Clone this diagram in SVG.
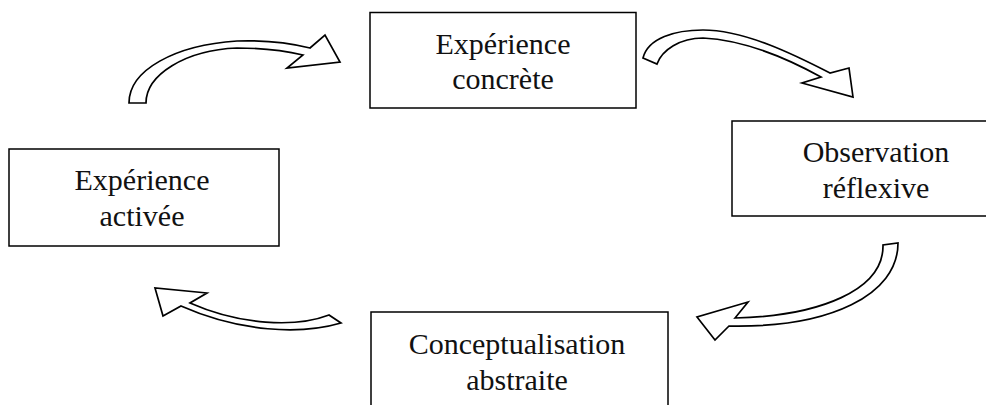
<svg xmlns="http://www.w3.org/2000/svg" width="986" height="405" viewBox="0 0 986 405">
<style>
.box{fill:#fff;stroke:#000;stroke-width:1.5}
.lbl{font-family:"Liberation Serif","Times New Roman",serif;font-size:30px;fill:#111;text-anchor:middle}
.arr{fill:#fff;stroke:#000;stroke-width:1.7;stroke-linejoin:miter}
</style>
<rect width="986" height="405" fill="#fff"/>
<g id="connectors">
<path class="arr" d="M129,103 C129,70 175,45 237,41 C265,40 290,43 310,48 L325,35 L340,62 L287,68 L303,55 C282,50 260,48 237,48 C185,50 146,75 146,103 Z"/>
<path class="arr" d="M643,58 C648,38 675,30 703,30 C745,30 795,55 830,73 L849,68 L853,97 L802,83 L821,77 C790,60 745,40 703,38 C680,38 662,50 657,64 Z"/>
<path class="arr" d="M898,243 C898,295 830,328 729,326 L715,340 L697,317 L748,302 L735,318 C820,316 884,290 883,245 Z"/>
<path class="arr" d="M341,323 C300,335 240,332 181,306 L163,316 L155,288 L207,293 L190,303 C240,325 295,328 329,315 Z"/>
</g>
<g id="node-concrete">
<rect class="box" x="370" y="12.5" width="266" height="95.5"/>
<text class="lbl" x="503" y="54">Expérience</text>
<text class="lbl" x="503" y="89">concrète</text>
</g>
<g id="node-observation">
<rect class="box" x="732" y="121" width="290" height="95"/>
<text class="lbl" x="876" y="162">Observation</text>
<text class="lbl" x="876" y="198">réflexive</text>
</g>
<g id="node-activee">
<rect class="box" x="9" y="149" width="270" height="97"/>
<text class="lbl" x="142" y="190">Expérience</text>
<text class="lbl" x="142" y="226">activée</text>
</g>
<g id="node-abstraite">
<rect class="box" x="371" y="312" width="297" height="110"/>
<text class="lbl" x="517" y="354">Conceptualisation</text>
<text class="lbl" x="517" y="390">abstraite</text>
</g>
</svg>
